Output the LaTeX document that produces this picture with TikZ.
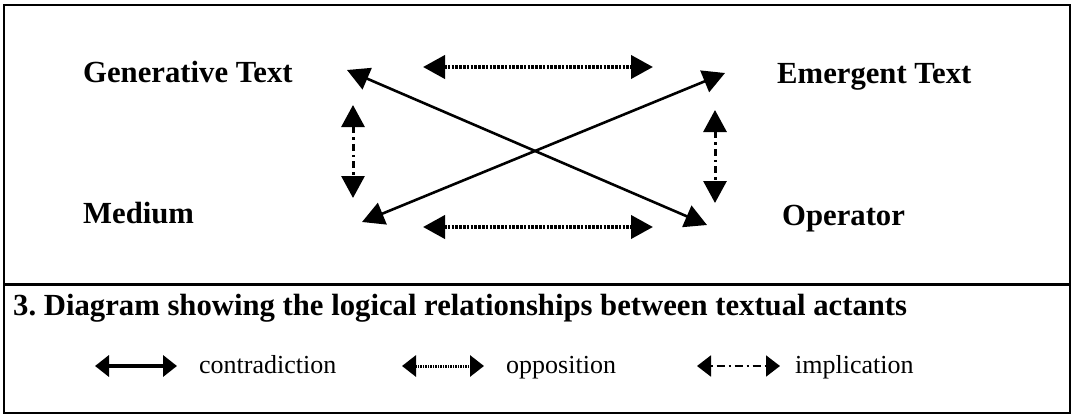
\documentclass[tikz,border=0pt]{standalone}
\usepackage{fontspec}
\setmainfont{Liberation Serif}
\usetikzlibrary{arrows.meta}
\frenchspacing
\tikzset{
  lbl/.style={anchor=base west, inner sep=0pt, font=\fontsize{30.7}{36}\selectfont\bfseries},
  capt/.style={anchor=base west, inner sep=0pt, font=\fontsize{30.7}{36}\selectfont\bfseries},
  leg/.style={anchor=base west, inner sep=0pt, font=\fontsize{26}{30}\selectfont},
  bighead/.style={{Triangle[length=22pt,width=23pt]}-{Triangle[length=22pt,width=23pt]}},
  smallhead/.style={{Triangle[length=14pt,width=21pt]}-{Triangle[length=14pt,width=21pt]}},
  contra/.style={bighead, line width=2.6pt},
  oppos/.style={bighead, line width=4pt, dash pattern=on 2.5pt off 1.3pt},
  impl/.style={bighead, line width=3pt, dash pattern=on 7pt off 4pt on 2.5pt off 4pt},
  lcontra/.style={smallhead, line width=3.5pt},
  loppos/.style={smallhead, line width=3pt, dash pattern=on 1.6pt off 0.9pt},
  limpl/.style={smallhead, line width=2pt, dash pattern=on 2pt off 4pt on 8pt off 4pt},
}
\begin{document}
\begin{tikzpicture}[x=1pt,y=-1pt]
\useasboundingbox (0,0) rectangle (1072,415);
% frame
\draw[line width=2pt] (4,5) rectangle (1070,413);
\draw[line width=3pt] (4,284) -- (1070,284);
% labels
\node[lbl] (gen) at (83,82) {Generative Text};
\node[lbl] (med) at (83,223) {Medium};
\node[lbl] (emg) at (777,83) {Emergent Text};
\node[lbl] (opr) at (782,225) {Operator};
% arrow end points
\coordinate (otl) at (423,67);
\coordinate (otr) at (653,67);
\coordinate (obl) at (423,227);
\coordinate (obr) at (653,227);
\coordinate (d1a) at (347,70);
\coordinate (d1b) at (707,225);
\coordinate (d2a) at (362,222);
\coordinate (d2b) at (725,73);
\coordinate (vlt) at (353,105);
\coordinate (vlb) at (353,198);
\coordinate (vrt) at (715,110);
\coordinate (vrb) at (715,203);
% arrows
\draw[oppos] (otl) -- (otr);
\draw[oppos] (obl) -- (obr);
\draw[contra] (d1a) -- (d1b);
\draw[contra] (d2a) -- (d2b);
\draw[impl] (vlt) -- (vlb);
\draw[impl] (vrt) -- (vrb);
% caption
\node[capt] (cap) at (13,315) {3. Diagram showing the logical relationships between textual actants};
% legend
\coordinate (l1a) at (95,366);
\coordinate (l1b) at (177,366);
\coordinate (l2a) at (402,366);
\coordinate (l2b) at (484,366);
\coordinate (l3a) at (697,366);
\coordinate (l3b) at (780,366);
\draw[lcontra] (l1a) -- (l1b);
\draw[loppos] (l2a) -- (l2b);
\draw[limpl] (l3a) -- (l3b);
\node[leg] (t1) at (199,373) {contradiction};
\node[leg] (t2) at (506,373) {opposition};
\node[leg] (t3) at (795,373) {implication};
\end{tikzpicture}
\end{document}
